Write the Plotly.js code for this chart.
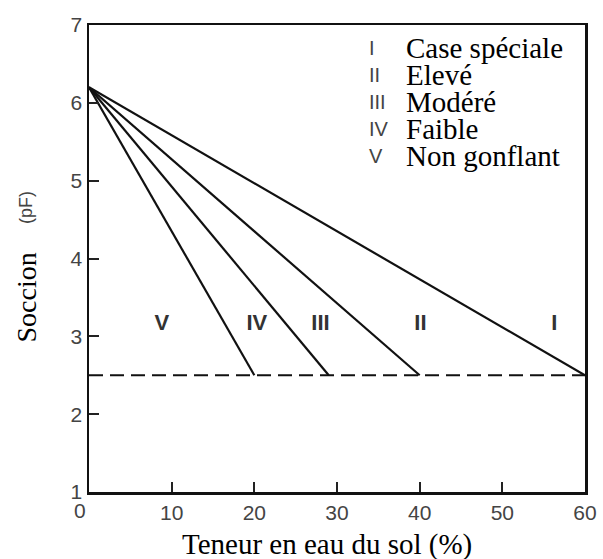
<!DOCTYPE html>
<html>
<head>
<meta charset="utf-8">
<script src="https://cdn.plot.ly/plotly-3.0.1.min.js"></script>
<style>html,body{margin:0;padding:0;background:#fff;}#chart{width:603px;height:559px;}</style>
</head>
<body>
<div id="chart"></div>
<script>
// ---- data ----
var startX = 0;
var startY = 6.2;
var endX = [20, 29, 40, 60];
var endY = 2.5;
var limitX = [0, 60];
var limitY = [2.5, 2.5];
var regionLabels = ['V', 'IV', 'III', 'II', 'I'];
var regionX = [8.8, 20.3, 28.0, 40.1, 56.3];
var regionY = [3.15, 3.15, 3.15, 3.15, 3.15];
var legendNumerals = ['I', 'II', 'III', 'IV', 'V'];
var legendClasses = ['Case spéciale', 'Elevé', 'Modéré', 'Faible', 'Non gonflant'];
var xTicks = [10, 20, 30, 40, 50, 60];
var yTicks = [1, 2, 3, 4, 5, 6, 7];
var xTitle = 'Teneur en eau du sol (%)';
var yTitleMain = 'Soccion';
var yTitleUnit = '(pF)';

// ---- geometry helpers (pixel -> paper) ----
var W = 603, H = 559, L = 89, R = 18, T = 25, B = 67;
var pw = W - L - R, ph = H - T - B;
function px(x) { return (x - L) / pw; }
function py(y) { return (H - B - y) / ph; }

var traces = [];
endX.forEach(function (ex) {
  traces.push({
    x: [startX, ex], y: [startY, endY], mode: 'lines', type: 'scatter',
    line: {color: '#111', width: 2.2}, hoverinfo: 'skip', showlegend: false
  });
});
traces.push({
  x: limitX, y: limitY, mode: 'lines', type: 'scatter',
  line: {color: '#111', width: 2.2, dash: '14px,7px'}, hoverinfo: 'skip', showlegend: false
});
traces.push({
  x: regionX, y: regionY, text: regionLabels, mode: 'text', type: 'scatter',
  textposition: 'middle center',
  textfont: {family: 'Liberation Sans, Arial, sans-serif', size: 22, color: '#333', weight: 'bold'},
  hoverinfo: 'skip', showlegend: false, cliponaxis: false
});

var serif = 'Liberation Serif, Times New Roman, serif';
var sans = 'Liberation Sans, Arial, sans-serif';
var annotations = [];
var rowTop = 47.5, rowGap = 27.1;
legendNumerals.forEach(function (n, i) {
  annotations.push({
    xref: 'paper', yref: 'paper', x: px(367), y: py(rowTop + i * rowGap),
    xanchor: 'left', yanchor: 'middle', showarrow: false, text: n,
    font: {family: sans, size: 20, color: '#444'}
  });
  annotations.push({
    xref: 'paper', yref: 'paper', x: px(404), y: py(rowTop + i * rowGap),
    xanchor: 'left', yanchor: 'middle', showarrow: false, text: legendClasses[i],
    font: {family: serif, size: 29, color: '#000'}
  });
});
// x title
annotations.push({
  xref: 'paper', yref: 'paper', x: px(326.5), y: py(544.5),
  xanchor: 'center', yanchor: 'middle', showarrow: false, text: xTitle,
  font: {family: serif, size: 29, color: '#000'}
});
// y title, two parts (serif word + sans unit)
annotations.push({
  xref: 'paper', yref: 'paper', x: px(25.5), y: py(298),
  xanchor: 'center', yanchor: 'middle', showarrow: false, textangle: -90,
  text: yTitleMain, font: {family: serif, size: 28, color: '#000'}
});
annotations.push({
  xref: 'paper', yref: 'paper', x: px(26.5), y: py(207.5),
  xanchor: 'center', yanchor: 'middle', showarrow: false, textangle: -90,
  text: yTitleUnit, font: {family: sans, size: 18, color: '#444'}
});
// x tick "0" (offset left as in the reference)
annotations.push({
  xref: 'x', yref: 'paper', x: 0, y: py(510), xshift: -9,
  xanchor: 'center', yanchor: 'middle', showarrow: false, text: '0',
  font: {family: sans, size: 21, color: '#444'}
});

var axisCommon = {
  showgrid: false, zeroline: false, showline: true, mirror: true,
  linecolor: '#111', linewidth: 2.5,
  ticks: 'inside', ticklen: 10, tickwidth: 2, tickcolor: '#222',
  tickfont: {family: sans, size: 21, color: '#444'},
  fixedrange: true
};

var layout = {
  width: W, height: H,
  margin: {l: L, r: R, t: T, b: B, pad: 0},
  paper_bgcolor: '#fff', plot_bgcolor: '#fff',
  showlegend: false,
  xaxis: Object.assign({}, axisCommon, {range: [0, 60], tickvals: xTicks, ticktext: xTicks.map(String)}),
  yaxis: Object.assign({}, axisCommon, {range: [1, 7], tickvals: yTicks, ticktext: yTicks.map(String)}),
  annotations: annotations
};

Plotly.newPlot('chart', traces, layout, {staticPlot: true, displayModeBar: false});
</script>
</body>
</html>
